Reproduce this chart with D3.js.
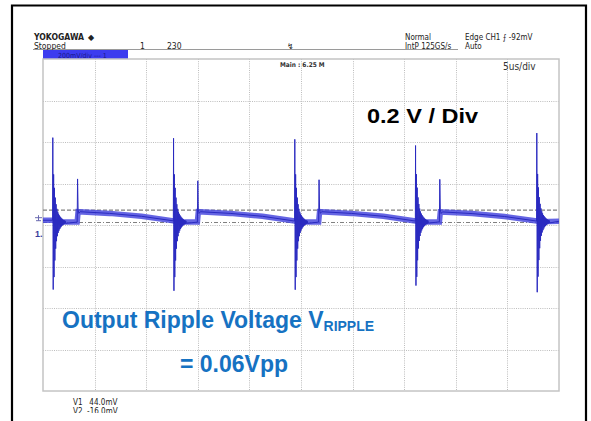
<!DOCTYPE html>
<html><head><meta charset="utf-8">
<script src="https://cdn.jsdelivr.net/npm/d3@7"></script>
<style>body{margin:0;background:#fff}svg{display:block}</style>
</head><body><svg id="c" width="591" height="421"></svg>
<script>
const timeTicksUs = [0, 5, 10, 15, 20, 25, 30, 35, 40, 45, 50];          // 5 us/div
const voltTicksMv = [-828, -628, -428, -228, -28, 172, 372, 572, 772];   // 0.2 V/div
const spikeTimesUs  = [0.95, 12.65, 24.4, 36.1, 47.85];
const spikeTopMv    = [393, 390, 385, 355, 415];
const spikeBottomMv = [-339, -345, -340, -320, -352];
const ringMv = [230, -265, 165, -185, 118, -128, 86, -92, 64, -68, 50, -52, 40, -41, 32, -33,
                26, -26, 21, -21, 17, -17, 13, -13, 10, -10, 8, -8, 6, -6];
const settleMv      = [-14, -14, -14, -13, -12];
const stepTimesUs   = [3.35, 15.0, 26.75, 38.45];
const stepSpikeMv   = [194, 185, 190, 192];
const stepLevelMv   = [36, 36, 36, 35];
const rampQ1Mv      = [28, 28, 28, 27];
const rampQ2Mv      = [14, 14, 14, 13];
const rampEndMv     = [-8, -9, -9, -9];
const startMv = -5, endMv = -10;
const cursorMv = [44, -16];
const cursorLabels = ["V1   44.0mV", "V2  -16.0mV"];
const headerLeft = ["YOKOGAWA", "Stopped", "1", "230"];
const headerRight = ["Normal", "IntP  125GS/s", "Edge CH1 \u2A0D -92mV", "Auto"];

// ---------------- layout ----------------
const svg = d3.select("#c");
const X0 = 43, X1 = 559, Y0 = 59, Y1 = 391;
const x = d3.scaleLinear().domain([0, 50]).range([X0, X1]);
const y = d3.scaleLinear().domain([-828, 772]).range([Y1, Y0]);
const font = "'Liberation Sans', Arial, sans-serif";
const narrow = "'Liberation Sans Narrow', 'DejaVu Sans Condensed', 'Liberation Sans', Arial, sans-serif";

// outer black frame
svg.append("path").attr("d", `M12,421 V5.5 H586 V421`).attr("fill", "none")
   .attr("stroke", "#000").attr("stroke-width", 2.2);

// header
svg.append("line").attr("x1", 33).attr("x2", 458).attr("y1", 49.5).attr("y2", 49.5)
   .attr("stroke", "#9a9a9a").attr("stroke-width", 1);
const ht = svg.append("g").attr("font-family", narrow).attr("fill", "#222");
ht.append("text").attr("x", 34).attr("y", 40).attr("font-size", 8).attr("font-weight", "bold")
  .attr("textLength", 50).attr("lengthAdjust", "spacingAndGlyphs").text(headerLeft[0]);
ht.append("text").attr("x", 88).attr("y", 40).attr("font-size", 8).attr("font-family", "DejaVu Sans").text("\u25C6");
ht.append("text").attr("x", 34).attr("y", 48.5).attr("font-size", 8.5).text(headerLeft[1]);
ht.append("text").attr("x", 140).attr("y", 48.5).attr("font-size", 8.5).text(headerLeft[2]);
ht.append("text").attr("x", 167).attr("y", 48.5).attr("font-size", 8.5).text(headerLeft[3]);
ht.append("text").attr("x", 287).attr("y", 48.5).attr("font-size", 8).attr("font-family", "DejaVu Sans").text("\u21AF");
ht.append("text").attr("x", 405).attr("y", 40).attr("font-size", 8).text(headerRight[0]);
ht.append("text").attr("x", 405).attr("y", 48.5).attr("font-size", 8).text(headerRight[1]);
ht.append("text").attr("x", 465).attr("y", 40).attr("font-size", 8).text(headerRight[2]);
ht.append("text").attr("x", 465).attr("y", 48.5).attr("font-size", 8).text(headerRight[3]);

// channel bar
svg.append("rect").attr("x", X0).attr("y", 50).attr("width", 85).attr("height", 9).attr("fill", "#3c3cef");
svg.append("text").attr("x", 58).attr("y", 57.5).attr("font-family", narrow).attr("font-size", 7)
   .attr("fill", "#1a1a8a").text("200mV/div   ---   1");

// grid
const grid = svg.append("g").attr("stroke", "#bdbdbd").attr("stroke-width", 1).attr("stroke-dasharray", "1,1.2");
grid.selectAll("line.v").data(timeTicksUs.slice(1, -1)).join("line")
    .attr("x1", d => Math.round(x(d)) + 0.5).attr("x2", d => Math.round(x(d)) + 0.5)
    .attr("y1", Y0).attr("y2", Y1);
grid.selectAll("line.h").data(voltTicksMv.slice(1, -1)).join("line")
    .attr("y1", d => Math.round(y(d)) + 0.5).attr("y2", d => Math.round(y(d)) + 0.5)
    .attr("x1", X0).attr("x2", X1);
svg.append("rect").attr("x", X0).attr("y", Y0).attr("width", X1 - X0).attr("height", Y1 - Y0)
   .attr("fill", "none").attr("stroke", "#c4c4c4").attr("stroke-width", 1.5);

// top-of-screen labels
svg.append("text").attr("x", 280).attr("y", 67).attr("font-family", narrow).attr("font-size", 6.5)
   .attr("font-weight", "bold").attr("fill", "#333").text("Main : 6.25 M");
svg.append("text").attr("x", 503).attr("y", 70).attr("font-family", narrow).attr("font-size", 10)
   .attr("fill", "#333").text("5us/div");

// cursors
svg.append("line").attr("x1", X0).attr("x2", X1).attr("y1", y(cursorMv[0])).attr("y2", y(cursorMv[0]))
   .attr("stroke", "#808080").attr("stroke-width", 1.2).attr("stroke-dasharray", "4,2");
svg.append("line").attr("x1", X0).attr("x2", X1).attr("y1", y(cursorMv[1])).attr("y2", y(cursorMv[1]))
   .attr("stroke", "#808080").attr("stroke-width", 1.2).attr("stroke-dasharray", "4,2,1,2");

// ---------------- trace ----------------
const full = [[0, startMv]];
const level = [[0, startMv]];
spikeTimesUs.forEach((ts, i) => {
  const pre = i === 0 ? startMv : rampEndMv[i - 1];
  full.push([ts - 0.02, pre]); level.push([ts, pre]);
  full.push([ts, spikeTopMv[i]]);
  full.push([ts + 0.04, spikeBottomMv[i]]);
  ringMv.forEach((r, k) => full.push([ts + 0.08 + k * 0.04, settleMv[i] + r]));
  level.push([ts + 0.3, settleMv[i]]);
  if (i < stepTimesUs.length) {
    const s = stepTimesUs[i], te = spikeTimesUs[i + 1], span = te - s;
    full.push([s - 0.04, settleMv[i]]); level.push([s - 0.04, settleMv[i]]);
    full.push([s, stepSpikeMv[i]]);
    full.push([s + 0.05, stepLevelMv[i] + 12]);
    full.push([s + 0.12, stepLevelMv[i] - 8]);
    full.push([s + 0.25, stepLevelMv[i]]); level.push([s + 0.05, stepLevelMv[i]]);
    full.push([s + span / 3, rampQ1Mv[i]]); level.push([s + span / 3, rampQ1Mv[i]]);
    full.push([s + 2 * span / 3, rampQ2Mv[i]]); level.push([s + 2 * span / 3, rampQ2Mv[i]]);
  } else {
    full.push([50, endMv]); level.push([50, endMv]);
  }
});
const line = d3.line().x(d => x(d[0])).y(d => y(d[1]));
svg.append("path").attr("d", line(level)).attr("fill", "none")
   .attr("stroke", "#4a4ade").attr("stroke-width", 5.5).attr("stroke-opacity", 0.85);
svg.append("path").attr("d", line(full)).attr("fill", "none")
   .attr("stroke", "#2a2ac0").attr("stroke-width", 1);

// ground marker
const gy = y(0);
svg.append("path").attr("d", `M35,${gy - 1.5} H42 M36,${gy + 1.5} H41 M38.5,${gy - 4} V${gy + 1.5}`)
   .attr("stroke", "#6a6ab0").attr("stroke-width", 1);
svg.append("text").attr("x", 35).attr("y", gy + 18).attr("font-family", font).attr("font-size", 9)
   .attr("font-weight", "bold").attr("fill", "#3a3a9a").text("1.");

// ---------------- annotations ----------------
svg.append("text").attr("x", 367).attr("y", 123).attr("font-family", font).attr("font-size", 21)
   .attr("font-weight", "bold").attr("fill", "#000")
   .attr("textLength", 111).attr("lengthAdjust", "spacingAndGlyphs").text("0.2 V / Div");
const t1 = svg.append("text").attr("x", 62).attr("y", 328).attr("font-family", font)
   .attr("font-weight", "bold").attr("fill", "#1672c2");
t1.append("tspan").attr("font-size", 23).text("Output Ripple Voltage V");
t1.append("tspan").attr("font-size", 14).attr("dy", 3).text("RIPPLE");
svg.append("text").attr("x", 180).attr("y", 372).attr("font-family", font).attr("font-size", 23)
   .attr("font-weight", "bold").attr("fill", "#1672c2").text("= 0.06Vpp");

// cursor readout (clipped at bottom like the screenshot)
svg.append("clipPath").attr("id", "clipB").append("rect").attr("x", 0).attr("y", 397).attr("width", 591).attr("height", 16);
const cr = svg.append("g").attr("clip-path", "url(#clipB)").attr("font-family", narrow)
   .attr("font-size", 8).attr("fill", "#222");
cursorLabels.forEach((s, i) => cr.append("text").attr("x", 73).attr("y", 405 + i * 8.5).attr("xml:space", "preserve").text(s));
</script></body></html>
